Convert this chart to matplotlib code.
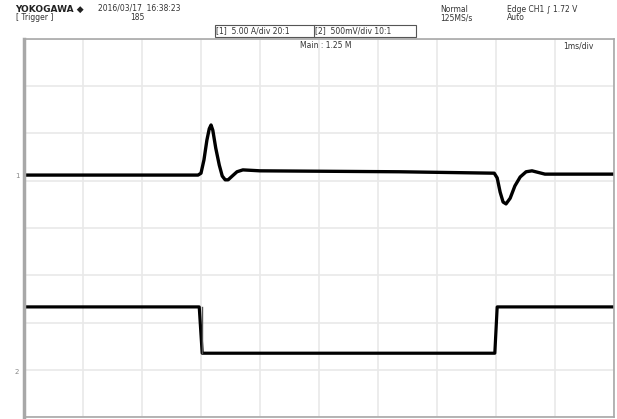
import matplotlib
matplotlib.use("Agg")
import matplotlib.pyplot as plt

# channel 1 (current probe), time in ms, value in divisions
t1 = [-5.0, -2.05, -2.0, -1.95, -1.90, -1.86, -1.83, -1.80, -1.75, -1.69, -1.64, -1.59,
      -1.54, -1.47, -1.39, -1.29, -1.0, 1.37, 2.97, 3.02, 3.07, 3.12, 3.17, 3.24, 3.32,
      3.41, 3.51, 3.61, 3.83, 5.0]
v1 = [1.12, 1.12, 1.16, 1.44, 1.86, 2.10, 2.18, 2.07, 1.69, 1.33, 1.10, 1.02,
      1.02, 1.10, 1.19, 1.23, 1.21, 1.19, 1.16, 1.06, 0.76, 0.55, 0.51, 0.63, 0.89,
      1.08, 1.19, 1.21, 1.14, 1.14]

# channel 2 (gate signal)
t2 = [-5.0, -2.03, -1.98, 2.98, 3.02, 5.0]
v2 = [-1.67, -1.67, -2.65, -2.65, -1.67, -1.67]

fig = plt.figure(figsize=(6.17, 4.19), dpi=100)
ax = fig.add_axes([24/617, 2/419, 590/617, 378/419])
ax.set_xlim(-5, 5)
ax.set_ylim(-4, 4)
ax.set_xticks(range(-5, 6))
ax.set_yticks(range(-4, 5))
ax.grid(True, color="#e9e9e9", linewidth=1.2)
ax.tick_params(length=0, labelleft=False, labelbottom=False)
for s in ax.spines.values():
    s.set_color("#a8a8a8")
    s.set_linewidth(1.2)
ax.spines["left"].set_linewidth(2.5)
ax.spines["left"].set_linestyle((0, (1.5, 1)))

ax.plot(t1, v1, color="black", linewidth=2.4, solid_joinstyle="round")
ax.plot(t2, v2, color="black", linewidth=2.3)
ax.plot([-1.98, -1.98], [-1.67, -2.65], color="#555555", linewidth=1)

# ground markers
fig.text(17/617, 1 - 176/419, "1", fontsize=5, color="#888888", ha="center", va="center")
fig.text(17/617, 1 - 372/419, "2", fontsize=5, color="#888888", ha="center", va="center")

# header
fig.text(15/617, 1 - 9/419, "YOKOGAWA ◆", fontsize=6.5, fontweight="bold", va="center", color="#222222")
fig.text(98/617, 1 - 8/419, "2016/03/17  16:38:23", fontsize=5.5, va="center", color="#333333")
fig.text(16/617, 1 - 18/419, "[ Trigger ]", fontsize=5.5, va="center", color="#333333")
fig.text(130/617, 1 - 18/419, "185", fontsize=5.5, va="center", color="#333333")
fig.text(440/617, 1 - 9/419, "Normal", fontsize=5.5, va="center", color="#333333")
fig.text(440/617, 1 - 18/419, "125MS/s", fontsize=5.5, va="center", color="#333333")
fig.text(507/617, 1 - 9/419, "Edge CH1 \u222b 1.72 V", fontsize=5.5, va="center", color="#333333")
fig.text(507/617, 1 - 18/419, "Auto", fontsize=5.5, va="center", color="#333333")

box = dict(boxstyle="square,pad=0.15", fc="white", ec="#555555", lw=0.8)
fig.text(216/617, 1 - 31/419, "[1]  5.00 A/div 20:1          ", fontsize=5.5, va="center", bbox=box, color="#333333")
fig.text(315/617, 1 - 31/419, "[2]  500mV/div 10:1          ", fontsize=5.5, va="center", bbox=box, color="#333333")
fig.text(326/617, 1 - 45/419, "Main : 1.25 M", fontsize=5.5, ha="center", va="center", color="#333333")
fig.text(578/617, 1 - 46/419, "1ms/div", fontsize=5.5, ha="center", va="center", color="#333333")

fig.savefig("out.png", dpi=100)
